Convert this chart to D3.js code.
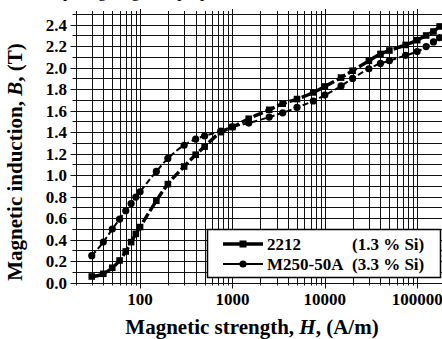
<html>
<head>
<meta charset="utf-8" />
<title>Magnetic induction vs strength</title>
<script src="https://cdn.jsdelivr.net/npm/d3@7"></script>
<style>
body { margin: 0; background: #fff; }
text { font-family: "Liberation Serif", "Times New Roman", serif; font-weight: bold; fill: #000; }
</style>
</head>
<body>
<script>

// field strength H (A/m) shared by both steels
var H = [30, 40, 50, 60, 70, 80, 90, 100, 150, 200, 300, 400, 500, 750, 1000, 1500, 2500, 3500,
	5000, 7500, 10000, 15000, 20000, 30000, 40000, 50000, 75000, 100000, 125000, 150000, 175000];

// 2212 (1.3 % Si) - squares
var B_2212 = [0.056, 0.081, 0.137, 0.205, 0.289, 0.376, 0.453, 0.516, 0.761, 0.916, 1.08, 1.19, 1.265, 1.40, 1.447,
	1.525, 1.608, 1.665, 1.708, 1.77, 1.825, 1.908, 1.972, 2.064, 2.128, 2.16, 2.212, 2.256, 2.30, 2.337, 2.384];

// M250-50A (3.3 % Si) - circles
var B_M250 = [0.25, 0.376, 0.497, 0.59, 0.668, 0.735, 0.795, 0.845, 1.034, 1.155, 1.278, 1.335, 1.365, 1.41, 1.45,
	1.484, 1.54, 1.58, 1.63, 1.69, 1.745, 1.83, 1.90, 1.99, 2.04, 2.065, 2.115, 2.15, 2.197, 2.24, 2.28];

var yTicks = [0.0, 0.2, 0.4, 0.6, 0.8, 1.0, 1.2, 1.4, 1.6, 1.8, 2.0, 2.2, 2.4];
var xTickLabels = [100, 1000, 10000, 100000];
var seriesNames = ["2212", "M250-50A"];
var seriesSi = ["(1.3 % Si)", "(3.3 % Si)"];

var width = 442, height = 339;

var svg = d3.select("body").append("svg")
	.attr("width", width)
	.attr("height", height)
	.attr("xmlns", "http://www.w3.org/2000/svg");

var xScale = d3.scaleLog().domain([20, 200000]).range([75.5, 445]);
var yScale = d3.scaleLinear().domain([0, 2.5]).range([282.5, 14]);

var px = function(v) { return Math.round(v) + 0.5; };

// caption of the page above, cropped so only descenders show
svg.append("text")
	.attr("x", 30)
	.attr("y", -3)
	.attr("font-size", "17px")
	.style("font-weight", "normal")
	.text("Comparing magnetic properties of the two steels");

// vertical grid (every minor log tick)
var xGrid = [];
for (var d = 10; d <= 100000; d *= 10) {
	for (var m = 1; m <= 9; m++) {
		var v = d * m;
		if (v >= 20 && v <= 200000) xGrid.push(v);
	}
}
xGrid.push(200000);

var grid = svg.append("g");

xGrid.forEach(function(v) {
	var decade = Math.abs(Math.log10(v) - Math.round(Math.log10(v))) < 1e-9;
	grid.append("line")
		.attr("x1", px(xScale(v)))
		.attr("x2", px(xScale(v)))
		.attr("y1", yScale(2.5) - (decade ? 5 : 3))
		.attr("y2", yScale(0) + (decade ? 6 : 3))
		.attr("stroke", "#111")
		.attr("stroke-width", 1);
});

// horizontal grid every 0.1
d3.range(0, 26).forEach(function(i) {
	var v = i / 10;
	var major = i % 2 == 0 && i < 25;
	grid.append("line")
		.attr("x1", xScale(20) - (major ? 5 : 3))
		.attr("x2", width)
		.attr("y1", px(yScale(v)))
		.attr("y2", px(yScale(v)))
		.attr("stroke", "#111")
		.attr("stroke-width", 1);
});

// y tick labels
svg.append("g").selectAll("text")
	.data(yTicks)
	.enter().append("text")
	.attr("x", 67)
	.attr("y", function(d) { return yScale(d); })
	.attr("dy", "0.36em")
	.attr("text-anchor", "end")
	.attr("font-size", "17px")
	.text(function(d) { return d.toFixed(1); });

// x tick labels
svg.append("g").selectAll("text")
	.data(xTickLabels)
	.enter().append("text")
	.attr("x", function(d) { return xScale(d); })
	.attr("y", 305)
	.attr("text-anchor", "middle")
	.attr("font-size", "17px")
	.text(function(d) { return d; });

// axis titles
var xt = svg.append("text")
	.attr("x", 252)
	.attr("y", 334)
	.attr("text-anchor", "middle")
	.attr("font-size", "21px");
xt.append("tspan").text("Magnetic strength, ");
xt.append("tspan").attr("font-style", "italic").text("H");
xt.append("tspan").text(",  (A/m)");

var yt = svg.append("text")
	.attr("transform", "translate(22,162) rotate(-90)")
	.attr("text-anchor", "middle")
	.attr("font-size", "21px");
yt.append("tspan").text("Magnetic induction, ");
yt.append("tspan").attr("font-style", "italic").text("B");
yt.append("tspan").text(",  (T)");

// series
var data2212 = H.map(function(h, i) { return {h: h, b: B_2212[i]}; });
var dataM250 = H.map(function(h, i) { return {h: h, b: B_M250[i]}; });

var line = d3.line()
	.x(function(d) { return xScale(d.h); })
	.y(function(d) { return yScale(d.b); })
	.curve(d3.curveMonotoneX);

svg.append("path")
	.datum(dataM250)
	.attr("fill", "none")
	.attr("stroke", "#000")
	.attr("stroke-width", 2)
	.attr("stroke-dasharray", "6 3")
	.attr("d", line);

svg.append("path")
	.datum(data2212)
	.attr("fill", "none")
	.attr("stroke", "#000")
	.attr("stroke-width", 3.4)
	.attr("stroke-dasharray", "10 3")
	.attr("d", line);

svg.append("g").selectAll("circle")
	.data(dataM250)
	.enter().append("circle")
	.attr("cx", function(d) { return xScale(d.h); })
	.attr("cy", function(d) { return yScale(d.b); })
	.attr("r", 3.6)
	.attr("fill", "#000");

svg.append("g").selectAll("rect")
	.data(data2212)
	.enter().append("rect")
	.attr("x", function(d) { return xScale(d.h) - 3.3; })
	.attr("y", function(d) { return yScale(d.b) - 3.3; })
	.attr("width", 6.6)
	.attr("height", 6.6)
	.attr("fill", "#000");

// legend
var legend = svg.append("g");
legend.append("rect")
	.attr("x", 207.5)
	.attr("y", 229.5)
	.attr("width", 233)
	.attr("height", 48)
	.attr("fill", "#fff")
	.attr("stroke", "#000")
	.attr("stroke-width", 1.5);

[0, 1].forEach(function(i) {
	var ly = 244 + i * 20;
	legend.append("line")
		.attr("x1", 223).attr("x2", 263)
		.attr("y1", ly).attr("y2", ly)
		.attr("stroke", "#000")
		.attr("stroke-width", i == 0 ? 3.5 : 2);
	if (i == 0) {
		legend.append("rect")
			.attr("x", 239.5).attr("y", ly - 3.5)
			.attr("width", 7).attr("height", 7)
			.attr("fill", "#000");
	} else {
		legend.append("circle")
			.attr("cx", 243).attr("cy", ly)
			.attr("r", 3.6)
			.attr("fill", "#000");
	}
	legend.append("text")
		.attr("x", 267).attr("y", ly)
		.attr("dy", "0.35em")
		.attr("font-size", "17px")
		.text(seriesNames[i]);
	legend.append("text")
		.attr("x", 352).attr("y", ly)
		.attr("dy", "0.35em")
		.attr("font-size", "17px")
		.text(seriesSi[i]);
});

</script>
</body>
</html>
